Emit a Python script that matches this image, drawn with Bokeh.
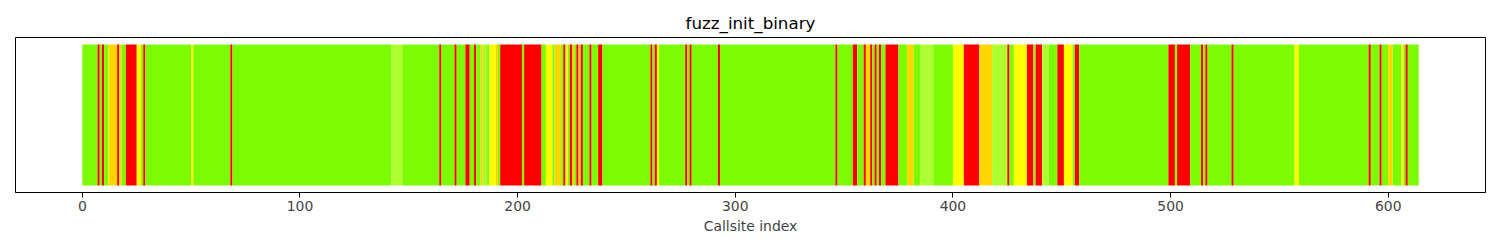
from bokeh.plotting import figure
from bokeh.models import Range1d, ColumnDataSource, FixedTicker
from bokeh.embed import file_html
from bokeh.resources import INLINE

# ---- data -------------------------------------------------------------
n_callsites = 614
status_colors = {
    "ok": "#7CFC00",       # lawngreen
    "fail": "#FF0000",     # red
    "warn": "#FFFF00",     # yellow
    "partial": "#FFD700",  # gold
    "light": "#ADFF2F",    # greenyellow
}
# non-"ok" callsite ranges (inclusive)
seg_start = [7, 9, 12, 16, 17, 20, 25, 28, 50, 68, 142, 164, 171, 176, 180, 183, 184, 187, 190,
             192, 203, 213, 217, 221, 222, 224, 225, 227, 228, 229, 233, 237, 261, 263, 264, 277,
             279, 292, 346, 354, 359, 360, 362, 364, 366, 369, 379, 385, 400, 405, 412, 418, 425,
             428, 434, 438, 441, 448, 451, 456, 499, 503, 514, 516, 528, 557, 591, 596, 600, 606, 608]
seg_end = [7, 9, 15, 16, 17, 24, 26, 28, 50, 68, 146, 164, 171, 177, 180, 183, 185, 189, 190,
           201, 210, 215, 219, 221, 222, 224, 225, 227, 228, 229, 233, 238, 261, 263, 264, 277,
           279, 292, 346, 355, 359, 361, 362, 364, 366, 374, 381, 390, 404, 411, 417, 424, 425,
           433, 436, 440, 443, 450, 454, 457, 501, 508, 514, 516, 528, 558, 591, 596, 601, 606, 608]
seg_status = ["fail", "fail", "partial", "fail", "partial", "fail", "warn", "fail", "warn", "fail",
              "light", "fail", "fail", "fail", "fail", "partial", "light", "warn", "partial",
              "fail", "fail", "warn", "partial", "fail", "warn", "fail", "partial", "fail", "partial",
              "fail", "fail", "fail", "fail", "fail", "warn", "fail", "fail", "fail", "fail", "fail",
              "fail", "partial", "fail", "fail", "fail", "fail", "partial", "light", "warn", "fail",
              "partial", "light", "fail", "warn", "fail", "fail", "light", "fail", "warn", "fail",
              "fail", "fail", "fail", "fail", "fail", "warn", "fail", "fail", "partial", "warn", "fail"]
x_ticks = [0, 100, 200, 300, 400, 500, 600]

# ---- build per-callsite status, then merge runs -------------------------
status = ["ok"] * n_callsites
for s, e, st in zip(seg_start, seg_end, seg_status):
    for i in range(s, e + 1):
        status[i] = st

left, right, colors = [], [], []
i = 0
while i < n_callsites:
    j = i
    while j + 1 < n_callsites and status[j + 1] == status[i]:
        j += 1
    left.append(i)
    right.append(j + 1)
    colors.append(status_colors[status[i]])
    i = j + 1

src = ColumnDataSource(dict(left=left, right=right, bottom=[0] * len(left),
                            top=[1] * len(left), color=colors))

# ---- figure ------------------------------------------------------------
pad = 0.05 * n_callsites
p = figure(width=1500, height=250, output_backend="svg", toolbar_location=None,
           x_range=Range1d(-pad, n_callsites + pad), y_range=Range1d(-0.05, 1.05),
           title="fuzz_init_binary",
           min_border_left=15, min_border_right=15, min_border_top=37, min_border_bottom=58)

p.quad(left="left", right="right", bottom="bottom", top="top", fill_color="color",
       line_color=None, source=src)

p.title.align = "center"
p.title.text_font = "DejaVu Sans"
p.title.text_font_size = "16.7px"
p.title.text_font_style = "normal"
p.title.text_color = "black"

p.xgrid.visible = False
p.ygrid.visible = False
p.yaxis.visible = False
p.outline_line_color = "black"
p.outline_line_width = 1
p.outline_line_alpha = 1

ax = p.xaxis[0]
ax.ticker = FixedTicker(ticks=x_ticks)
ax.axis_label = "Callsite index"
ax.axis_label_text_font = "DejaVu Sans"
ax.axis_label_text_font_size = "13.9px"
ax.axis_label_text_font_style = "normal"
ax.major_label_text_font = "DejaVu Sans"
ax.major_label_text_font_size = "13.9px"
ax.major_tick_out = 5
ax.major_tick_in = 0
ax.minor_tick_out = 0
ax.minor_tick_in = 0
ax.major_label_standoff = 3
ax.axis_label_standoff = 4
ax.axis_line_color = "black"
ax.major_tick_line_color = "black"

open("out.html", "w").write(file_html(p, INLINE))
